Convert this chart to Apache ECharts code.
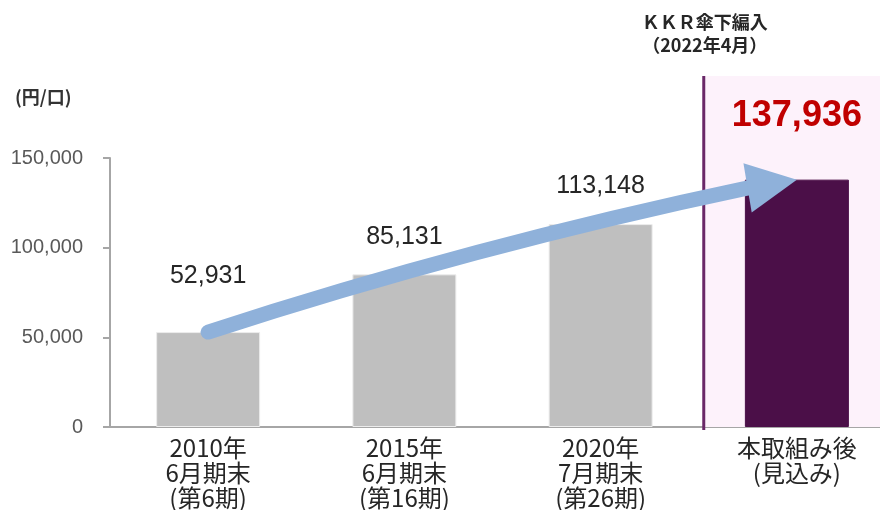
<!DOCTYPE html>
<html>
<head>
<meta charset="utf-8">
<script src="https://cdn.jsdelivr.net/npm/echarts@6/dist/echarts.min.js"></script>
<style>
html,body{margin:0;padding:0;background:#fff;}
#chart{width:880px;height:510px;}
</style>
</head>
<body>
<div id="chart"></div>
<script>
// ---- data ----
const categories = ['2010年\n6月期末\n(第6期)', '2015年\n6月期末\n(第16期)', '2020年\n7月期末\n(第26期)', '本取組み後\n(見込み)'];
const values = [52931, 85131, 113148, 137936];
const yTicks = [0, 50000, 100000, 150000];
const unitLabel = '(円/口)';
const noteLines = ['ＫＫＲ傘下編入', '（2022年4月）'];
const arrowFrom = 0;
const arrowTo = 3;
const highlightIndex = 3;

// ---- styles ----
const grayBar = '#bfbfbf';
const purpleBar = '#4b0f48';
const labelDistance = [43, 25, 25, 46];
const arrowColor = '#8fb1da';
const numFont = '"Liberation Sans", Arial, sans-serif';
const cjkFont = '"Noto Sans CJK JP", "Noto Sans", sans-serif';

const barData = values.map((v, i) => {
  const hi = i === highlightIndex;
  return {
    value: v,
    itemStyle: { color: hi ? purpleBar : grayBar, borderColor: hi ? purpleBar : '#ececec', borderWidth: 1 },
    label: hi
      ? { distance: labelDistance[i], fontSize: 36, fontWeight: 'bold', color: '#c00000' }
      : { distance: labelDistance[i] }
  };
});

const chart = echarts.init(document.getElementById('chart'), null, { renderer: 'canvas' });

const option = {
  backgroundColor: '#ffffff',
  animation: false,
  graphic: [{
    type: 'text', left: 15, top: 88,
    style: { text: unitLabel, font: 'bold 18px ' + cjkFont, fill: '#333333' }
  }],
  grid: { left: 110, top: 158, width: 785, height: 269, containLabel: false, outerBoundsMode: 'none' },
  xAxis: {
    type: 'category',
    data: categories,
    axisLine: { show: true, lineStyle: { color: '#a6a6a6', width: 2 } },
    axisTick: { show: false },
    axisLabel: { color: '#262626', fontSize: 24, lineHeight: 25, fontFamily: cjkFont, margin: 8, interval: 0 },
    splitLine: { show: false }
  },
  yAxis: {
    type: 'value',
    min: yTicks[0],
    max: yTicks[yTicks.length - 1],
    interval: yTicks[1] - yTicks[0],
    axisLine: { show: true, lineStyle: { color: '#a6a6a6', width: 2 } },
    axisTick: { show: true, length: 7, lineStyle: { color: '#a6a6a6', width: 2 } },
    axisLabel: {
      color: '#595959', fontSize: 20, fontFamily: numFont, margin: 27,
      formatter: v => v.toLocaleString('en-US')
    },
    splitLine: { show: false }
  },
  series: [
    {
      type: 'custom',
      name: 'band',
      z: 1,
      silent: true,
      clip: false,
      data: [[highlightIndex]],
      renderItem: function (params, api) {
        const cs = params.coordSys;
        const a = api.coord([api.value(0) - 1, 0]);
        const b = api.coord([api.value(0), 0]);
        const x = (a[0] + b[0]) / 2 + 5;
        const bottom = cs.y + cs.height;
        const top = cs.y - 82;
        return {
          type: 'group',
          children: [
            { type: 'rect', shape: { x: x, y: top, width: cs.x + cs.width - x, height: bottom - top },
              style: { fill: '#fdf2fb' } },
            { type: 'line', shape: { x1: x, y1: top, x2: x, y2: bottom + 3 },
              style: { stroke: '#6a2868', lineWidth: 3 } },
            { type: 'text', x: x + 1, y: top - 42,
              style: { text: noteLines.join('\n'), font: 'bold 18px ' + cjkFont, lineHeight: 23,
                       fill: '#262626', align: 'center', verticalAlign: 'middle' } }
          ]
        };
      }
    },
    {
      type: 'bar',
      name: 'value',
      z: 2,
      barWidth: 104,
      data: barData,
      label: {
        show: true, position: 'top', distance: 25,
        color: '#262626', fontSize: 25, fontFamily: numFont,
        formatter: p => p.value.toLocaleString('en-US')
      }
    },
    {
      type: 'custom',
      name: 'arrow',
      z: 5,
      silent: true,
      clip: false,
      data: [[arrowFrom, values[arrowFrom], arrowTo, values[arrowTo]]],
      renderItem: function (params, api) {
        const p0 = api.coord([api.value(0), api.value(1)]);
        const p1 = api.coord([api.value(2), api.value(3)]);
        const chord = Math.atan2(p1[1] - p0[1], p1[0] - p0[0]);
        const ang = chord + 5 * Math.PI / 180;
        const dx = Math.cos(ang), dy = Math.sin(ang);
        const nx = -dy, ny = dx;
        const head = 50, half = 25;
        const bx = p1[0] - dx * head, by = p1[1] - dy * head;
        // shaft: gentle upward bow
        const sx = bx - p0[0], sy = by - p0[1];
        const sl = Math.hypot(sx, sy);
        const px = sy / sl, py = -sx / sl; // perpendicular pointing up
        const bow = 15;
        const cpx = (p0[0] + bx) / 2 + px * bow, cpy = (p0[1] + by) / 2 + py * bow;
        return {
          type: 'group',
          children: [
            { type: 'bezierCurve',
              shape: { x1: p0[0], y1: p0[1], x2: bx + dx * 3, y2: by + dy * 3, cpx1: cpx, cpy1: cpy },
              style: { stroke: arrowColor, lineWidth: 15, lineCap: 'round', fill: null } },
            { type: 'polygon',
              shape: { points: [[p1[0], p1[1]], [bx + nx * half, by + ny * half], [bx - nx * half, by - ny * half]] },
              style: { fill: arrowColor } }
          ]
        };
      }
    }
  ]
};
chart.setOption(option);
</script>
</body>
</html>
